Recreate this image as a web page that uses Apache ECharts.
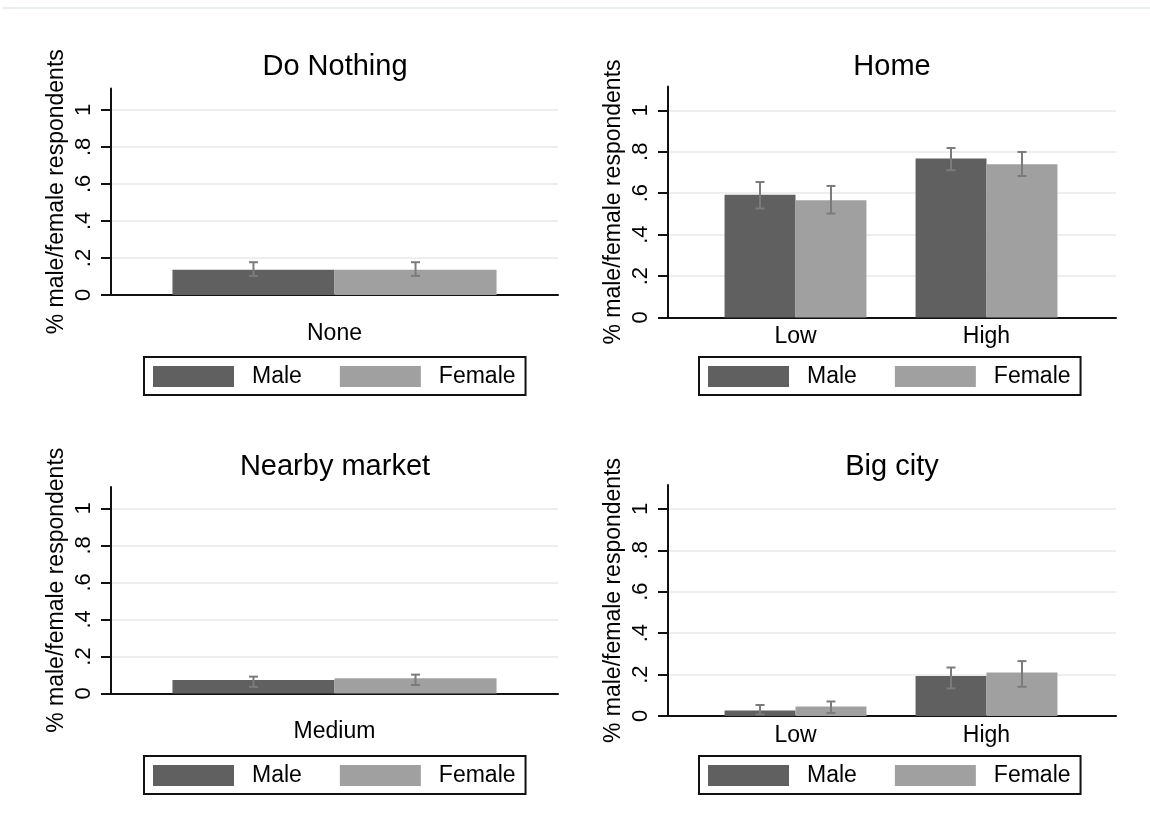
<!DOCTYPE html>
<html>
<head>
<meta charset="utf-8">
<title>Shares of respondents by location and gender</title>
<script src="https://cdn.jsdelivr.net/npm/echarts@6/dist/echarts.min.js"></script>
<style>
  html, body { margin: 0; padding: 0; background: #ffffff; }
  #chart { width: 1150px; height: 837px; }
</style>
</head>
<body>
<div id="chart"></div>
<script>
// ---- data -------------------------------------------------------------
const panelTitles = ['Do Nothing', 'Home', 'Nearby market', 'Big city'];
const panelCategories = [['None'], ['Low', 'High'], ['Medium'], ['Low', 'High']];
const seriesNames = ['Male', 'Female'];

const maleShare   = [[0.137], [0.593, 0.767], [0.073], [0.027, 0.193]];
const maleCiLow   = [[0.103], [0.526, 0.711], [0.036], [0.008, 0.133]];
const maleCiHigh  = [[0.177], [0.654, 0.818], [0.091], [0.053, 0.234]];

const femaleShare  = [[0.137], [0.566, 0.740], [0.082], [0.046, 0.210]];
const femaleCiLow  = [[0.103], [0.502, 0.683], [0.046], [0.014, 0.141]];
const femaleCiHigh = [[0.177], [0.635, 0.799], [0.102], [0.070, 0.265]];

const yTicks = [0, 0.2, 0.4, 0.6, 0.8, 1];
const yMax = 1.115;
const yTitle = '% male/female respondents';

// ---- layout & style -----------------------------------------------------
const FONT = '"Liberation Sans", Arial, Helvetica, sans-serif';
const barColors = ['#606060', '#a0a0a0'];
const ink = '#111111';

// plot frame (axis lines, grid lines) for each panel
const frames = [
  { left: 111, top: 88.5, width: 447, height: 206.5 },
  { left: 668, top: 86.5, width: 448, height: 231 },
  { left: 111, top: 487,  width: 447, height: 206.5 },
  { left: 668, top: 485,  width: 448, height: 231 }
];
// region over which the category bands are laid out
const bands = [
  { left: 111, width: 447, gap: 0.275 },
  { left: 700, width: 382, gap: 0.257 },
  { left: 111, width: 447, gap: 0.275 },
  { left: 700, width: 382, gap: 0.257 }
];
const catLabelMargin = [27, 8, 27, 8];
const titleCenters = [[335, 67], [892, 67], [335, 467], [892, 467]];
const legendBoxes = [[144, 357], [699, 357], [144, 756], [699, 756]];

function tickText(v) {
  if (Math.abs(v) < 1e-9) return '0';
  if (Math.abs(v - 1) < 1e-9) return '1';
  return String(Math.round(v * 10) / 10).replace(/^0\./, '.');
}

function errorBarRenderer(gapRatio, side) {
  return function (params, api) {
    const idx = api.value(0);
    const lo = api.coord([idx, api.value(1)]);
    const hi = api.coord([idx, api.value(2)]);
    const band = api.size([1, 0])[0];
    const x = lo[0] + side * band * (1 - gapRatio) / 4;
    const cap = 4.5;
    const style = { stroke: '#7b7b7b', lineWidth: 2 };
    return {
      type: 'group',
      children: [
        { type: 'line', shape: { x1: x, y1: lo[1], x2: x, y2: hi[1] }, style },
        { type: 'line', shape: { x1: x - cap, y1: hi[1], x2: x + cap, y2: hi[1] }, style },
        { type: 'line', shape: { x1: x - cap, y1: lo[1], x2: x + cap, y2: lo[1] }, style }
      ]
    };
  };
}

const grids = [], xAxes = [], yAxes = [], series = [], legends = [], graphics = [];

frames.forEach(function (f, p) {
  const b = bands[p];
  // frame grid
  grids.push({ left: f.left, top: f.top, width: f.width, height: f.height, outerBoundsMode: 'none' });
  // bar grid
  grids.push({ left: b.left, top: f.top, width: b.width, height: f.height, outerBoundsMode: 'none' });

  xAxes.push({
    gridIndex: 2 * p, type: 'category', data: [''],
    axisLine: { show: true, lineStyle: { color: ink, width: 2 } },
    axisTick: { show: false }, axisLabel: { show: false }, splitLine: { show: false }
  });
  xAxes.push({
    gridIndex: 2 * p + 1, type: 'category', data: panelCategories[p],
    axisLine: { show: false }, axisTick: { show: false },
    axisLabel: { fontSize: 23, color: '#000', fontFamily: FONT, margin: catLabelMargin[p] },
    splitLine: { show: false }
  });

  yAxes.push({
    gridIndex: 2 * p, type: 'value', min: 0, max: yMax, interval: 0.2,
    axisLine: { show: true, lineStyle: { color: ink, width: 2 } },
    axisTick: { show: true, length: 10, customValues: yTicks, lineStyle: { color: ink, width: 2 } },
    axisLabel: {
      customValues: yTicks, rotate: 90, margin: 16, fontSize: 22, color: '#000',
      fontFamily: FONT, formatter: tickText
    },
    splitLine: { show: true, lineStyle: { color: '#e8e8e8', width: 1.5 } },
    name: yTitle, nameLocation: 'middle', nameGap: 43,
    nameTextStyle: { fontSize: 23, color: '#000', fontFamily: FONT }
  });
  yAxes.push({
    gridIndex: 2 * p + 1, type: 'value', min: 0, max: yMax, show: false
  });

  const shares = [maleShare[p], femaleShare[p]];
  const lows = [maleCiLow[p], femaleCiLow[p]];
  const highs = [maleCiHigh[p], femaleCiHigh[p]];

  seriesNames.forEach(function (name, s) {
    series.push({
      name: name, type: 'bar', xAxisIndex: 2 * p + 1, yAxisIndex: 2 * p + 1,
      data: shares[s], barGap: '0%', barCategoryGap: (b.gap * 100) + '%',
      itemStyle: { color: barColors[s] }, silent: true, z: 2
    });
  });
  seriesNames.forEach(function (name, s) {
    series.push({
      name: name + ' 95% CI', type: 'custom', xAxisIndex: 2 * p + 1, yAxisIndex: 2 * p + 1,
      data: lows[s].map(function (lo, i) { return [i, lo, highs[s][i]]; }),
      encode: { x: 0, y: [1, 2] },
      renderItem: errorBarRenderer(b.gap, s === 0 ? -1 : 1),
      silent: true, z: 3
    });
  });

  legends.push({
    left: legendBoxes[p][0], top: legendBoxes[p][1], orient: 'horizontal',
    data: seriesNames, icon: 'rect', itemWidth: 81, itemHeight: 21, itemGap: 38,
    padding: [8, 10, 7, 9], borderColor: ink, borderWidth: 2, borderRadius: 0,
    selectedMode: false, inactiveColor: '#ccc',
    textStyle: { fontSize: 23, color: '#000', fontFamily: FONT, padding: [0, 0, 0, 13] }
  });

  graphics.push({
    type: 'text', x: titleCenters[p][0], y: titleCenters[p][1],
    style: {
      text: panelTitles[p], fill: '#000', font: '29px ' + FONT,
      align: 'center', verticalAlign: 'middle'
    }
  });
});

// faint rule across the top of the page
graphics.push({
  type: 'rect', shape: { x: 3, y: 7, width: 1147, height: 2 },
  style: { fill: '#e8eeec' }, silent: true
});

const chart = echarts.init(document.getElementById('chart'), null, { renderer: 'canvas' });
chart.setOption({
  animation: false,
  backgroundColor: '#ffffff',
  textStyle: { fontFamily: FONT },
  grid: grids,
  xAxis: xAxes,
  yAxis: yAxes,
  legend: legends,
  series: series,
  graphic: graphics,
  tooltip: { show: false }
});
</script>
</body>
</html>
